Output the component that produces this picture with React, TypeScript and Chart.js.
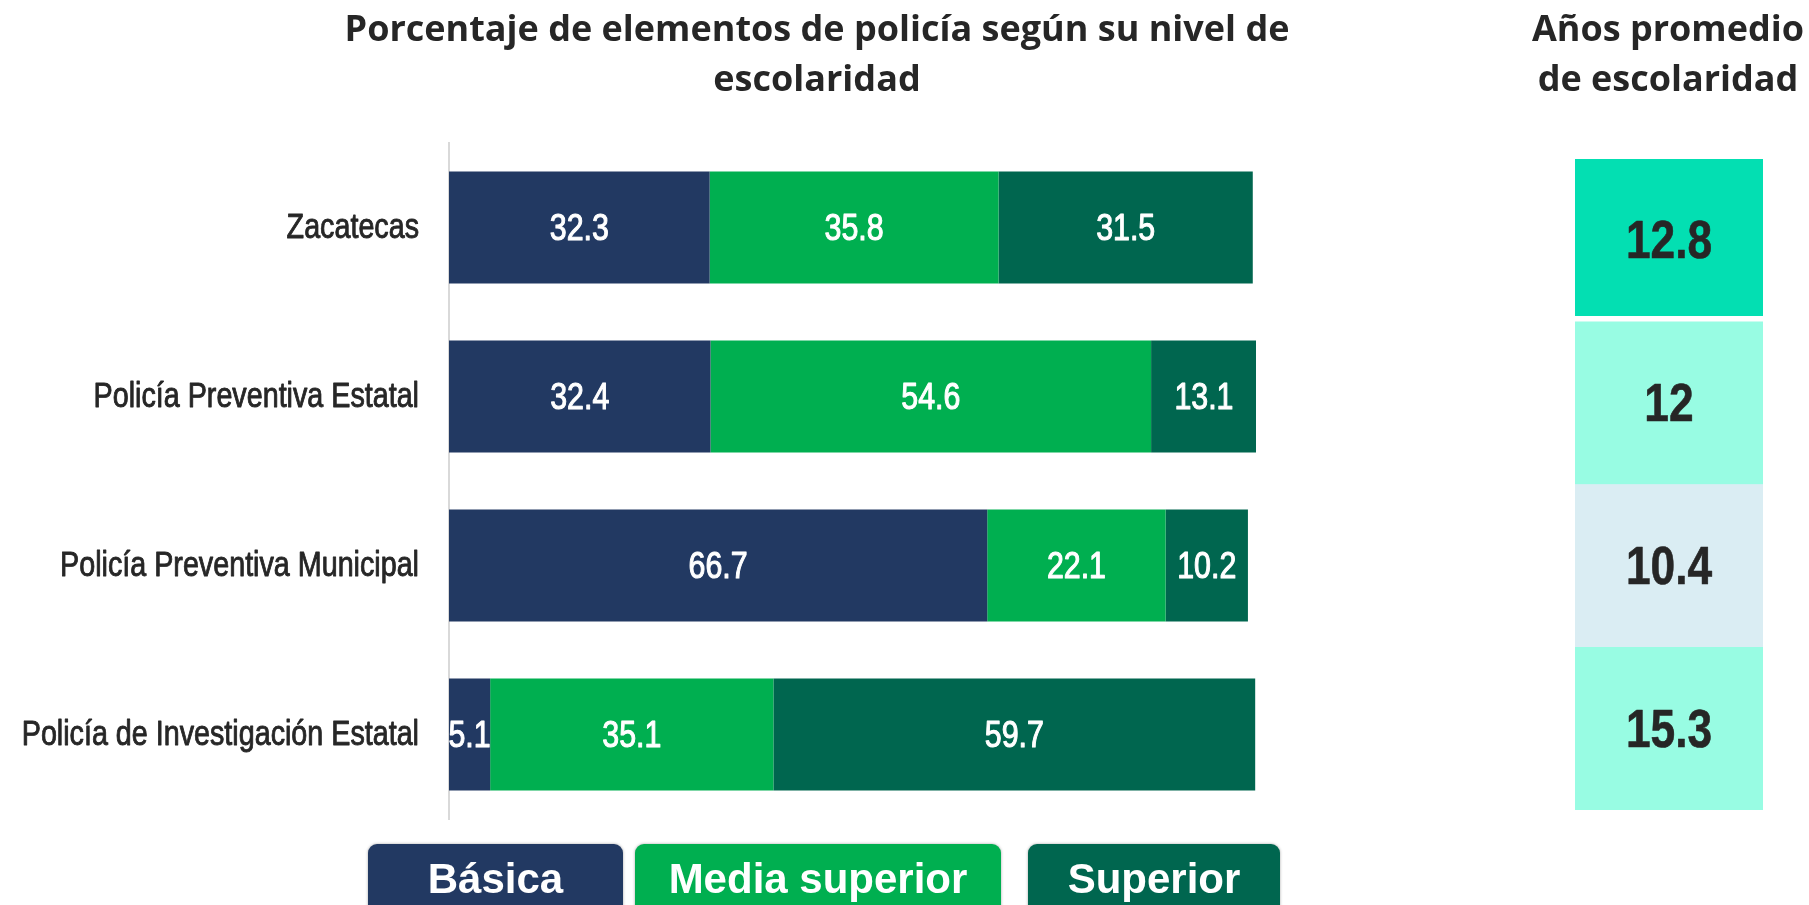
import React, { useEffect, useRef } from "react";
import { Chart, registerables } from "chart.js";

Chart.register(...registerables);

const CATEGORIES = [
  "Zacatecas",
  "Policía Preventiva Estatal",
  "Policía Preventiva Municipal",
  "Policía de Investigación Estatal",
];
const SERIES_NAMES = ["Básica", "Media superior", "Superior"];
const BASICA = [32.3, 32.4, 66.7, 5.1];
const MEDIA_SUPERIOR = [35.8, 54.6, 22.1, 35.1];
const SUPERIOR = [31.5, 13.1, 10.2, 59.7];
const SERIES_COLORS = ["#223962", "#00AF50", "#00664F"];

const YEARS = [12.8, 12, 10.4, 15.3];
const YEAR_COLORS = ["#03DFB2", "#98FCE3", "#DAEDF3", "#98FCE3"];

const TITLE_MAIN = ["Porcentaje de elementos de policía según su nivel de", "escolaridad"];
const TITLE_SIDE = ["Años promedio", "de escolaridad"];

const SANS = "'Liberation Sans', Arial, sans-serif";
const NARROW_X = 0.82;

function narrowText(ctx: any, text: string, x: number, y: number, align: "left" | "right" | "center", stroke: number) {
  ctx.save();
  ctx.translate(x, y);
  ctx.scale(NARROW_X, 1);
  ctx.textAlign = align;
  if (stroke > 0) {
    ctx.lineWidth = stroke;
    ctx.lineJoin = "round";
    ctx.strokeText(text, 0, 0);
  }
  ctx.fillText(text, 0, 0);
  ctx.restore();
}

const barLabels = {
  id: "barLabels",
  afterDatasetsDraw(chart: any, _args: any, opts: any) {
    const { ctx, chartArea } = chart;
    ctx.save();
    ctx.beginPath();
    ctx.rect(chartArea.left, 0, chart.width - chartArea.left, chart.height);
    ctx.clip();
    ctx.font = opts.font;
    ctx.fillStyle = opts.color;
    ctx.strokeStyle = opts.color;
    ctx.textBaseline = "middle";
    chart.data.datasets.forEach((ds: any, i: number) => {
      const meta = chart.getDatasetMeta(i);
      meta.data.forEach((el: any, j: number) => {
        const v = opts.values ? opts.values[j] : ds.data[j];
        const p = el.getProps(["x", "y", "base"], true);
        const cx = opts.full ? (chartArea.left + chartArea.right) / 2 : (p.x + p.base) / 2;
        narrowText(ctx, String(v), cx, p.y + (opts.dy || 0), "center", opts.stroke || 0);
      });
    });
    ctx.restore();
  },
};

const categoryLabels = {
  id: "categoryLabels",
  afterDraw(chart: any, _args: any, opts: any) {
    const { ctx, chartArea } = chart;
    const yScale = chart.scales.y;
    ctx.save();
    ctx.font = opts.font;
    ctx.fillStyle = opts.color;
    ctx.strokeStyle = opts.color;
    ctx.textBaseline = "middle";
    (chart.data.labels as string[]).forEach((label, i) => {
      narrowText(ctx, label, chartArea.left - opts.gap, yScale.getPixelForValue(i) + (opts.dy || 0), "right", opts.stroke || 0);
    });
    ctx.restore();
  },
};

export default function App() {
  const mainRef = useRef<HTMLCanvasElement>(null);
  const sideRef = useRef<HTMLCanvasElement>(null);

  useEffect(() => {
    document.body.style.margin = "0";
    document.body.style.overflow = "hidden";
    const series = [BASICA, MEDIA_SUPERIOR, SUPERIOR];
    const main = new Chart(mainRef.current!, {
      type: "bar",
      data: {
        labels: CATEGORIES,
        datasets: SERIES_NAMES.map((name, i) => ({
          label: name,
          data: series[i],
          backgroundColor: SERIES_COLORS[i],
          borderWidth: 0,
          barPercentage: 0.663,
          categoryPercentage: 1,
        })),
      },
      options: {
        indexAxis: "y",
        animation: false,
        responsive: false,
        maintainAspectRatio: false,
        layout: { padding: { left: 0, right: 44, top: 143, bottom: 86 } },
        plugins: {
          legend: { display: false },
          title: { display: false },
          tooltip: { enabled: false },
          barLabels: { font: `37px ${SANS}`, color: "#ffffff", dy: 2, stroke: 1.1 },
          categoryLabels: { font: `35px ${SANS}`, color: "#262626", gap: 30, dy: 1, stroke: 0.9 },
        } as any,
        scales: {
          x: { stacked: true, min: 0, max: 100, display: false },
          y: {
            stacked: true,
            grid: { display: false, drawTicks: false },
            border: { display: true, color: "#d9d9d9", width: 2 },
            ticks: { display: false },
            afterFit(scale: any) {
              scale.width = 449;
            },
          },
        },
      },
      plugins: [barLabels, categoryLabels],
    });

    const side = new Chart(sideRef.current!, {
      type: "bar",
      data: {
        labels: CATEGORIES,
        datasets: [
          {
            label: "Años promedio de escolaridad",
            data: YEARS.map(() => [0, 1]) as any,
            backgroundColor: YEAR_COLORS,
            borderColor: "#ffffff",
            borderSkipped: false,
            borderWidth: (c: any) => (c.dataIndex === 0 ? { top: 0, left: 0, right: 0, bottom: 6 } : 0),
            barPercentage: 1,
            categoryPercentage: 1,
          } as any,
        ],
      },
      options: {
        indexAxis: "y",
        animation: false,
        responsive: false,
        maintainAspectRatio: false,
        layout: { padding: 0 },
        plugins: {
          legend: { display: false },
          tooltip: { enabled: false },
          barLabels: { font: `bold 54px ${SANS}`, color: "#262626", full: true, values: YEARS, dy: 3, stroke: 0.6 },
        } as any,
        scales: {
          x: { min: 0, max: 1, display: false },
          y: { display: false },
        },
      },
      plugins: [barLabels],
    });

    return () => {
      main.destroy();
      side.destroy();
    };
  }, []);

  const legendBoxes = [
    { left: 368, width: 255 },
    { left: 635, width: 366 },
    { left: 1028, width: 252 },
  ];

  const titleStyle: React.CSSProperties = {
    position: "absolute",
    top: 3,
    fontFamily: "'Open Sans', sans-serif",
    fontWeight: 700,
    fontSize: 36,
    lineHeight: "50px",
    color: "#262626",
    textAlign: "center",
    whiteSpace: "nowrap",
  };

  return (
    <div
      style={{
        position: "absolute",
        left: 0,
        top: 0,
        width: 1809,
        height: 905,
        overflow: "hidden",
        background: "#ffffff",
      }}
    >
      <canvas
        ref={mainRef}
        width={1300}
        height={905}
        style={{ position: "absolute", left: 0, top: 0, width: 1300, height: 905 }}
      />
      <canvas
        ref={sideRef}
        width={188}
        height={651}
        style={{ position: "absolute", left: 1575, top: 159, width: 188, height: 651 }}
      />
      <div style={{ ...titleStyle, left: 817 - 600, width: 1200 }}>
        {TITLE_MAIN[0]}
        <br />
        {TITLE_MAIN[1]}
      </div>
      <div style={{ ...titleStyle, left: 1668 - 200, width: 400 }}>
        {TITLE_SIDE[0]}
        <br />
        {TITLE_SIDE[1]}
      </div>
      {SERIES_NAMES.map((name, i) => (
        <div
          key={name}
          style={{
            position: "absolute",
            left: legendBoxes[i].left,
            top: 844,
            width: legendBoxes[i].width,
            height: 90,
            borderRadius: 9,
            background: SERIES_COLORS[i],
            boxShadow: "0 0 3px rgba(0,0,0,0.35)",
            color: "#ffffff",
            fontFamily: SANS,
            fontWeight: 700,
            fontSize: 42,
            lineHeight: "48px",
            textAlign: "center",
            paddingTop: 11,
            boxSizing: "border-box",
          }}
        >
          {name}
        </div>
      ))}
    </div>
  );
}
